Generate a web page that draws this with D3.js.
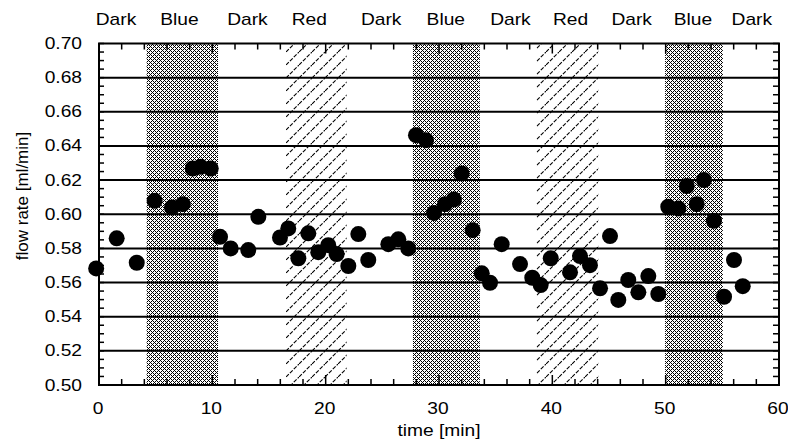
<!DOCTYPE html>
<html>
<head>
<meta charset="utf-8">
<script src="https://cdn.jsdelivr.net/npm/d3@7"></script>
<style>
  body { margin: 0; background: #fff; }
  svg text { font-family: 'Liberation Sans', Arial, sans-serif; fill: #000; font-size: 16px; }
</style>
</head>
<body>
<div id="chart"></div>
<script>
'use strict';

/* measured data */
var times = [-0.25, 1.56, 3.33, 4.91, 6.44, 7.39, 8.27, 8.97, 9.86, 10.68, 11.62, 13.17, 14.06,
  15.97, 16.70, 17.59, 18.47, 19.35, 20.23, 20.97, 22.0, 22.88, 23.76, 25.53, 26.41, 27.29,
  27.97, 28.85, 29.56, 30.53, 31.32, 32.0, 32.97, 33.77, 34.5, 35.53, 37.15, 38.23, 38.97,
  39.86, 41.56, 42.44, 43.32, 44.21, 45.09, 45.82, 46.70, 47.59, 48.47, 49.35, 50.23, 51.12,
  51.86, 52.74, 53.38, 54.26, 55.15, 56.03, 56.80];
var flowRates = [0.5683, 0.5859, 0.5716, 0.6079, 0.6040, 0.6059, 0.6268, 0.6278, 0.6268, 0.5868,
  0.5800, 0.5790, 0.5985, 0.5864, 0.5917, 0.5742, 0.5888, 0.5778, 0.5819, 0.5767, 0.5697,
  0.5884, 0.5732, 0.5825, 0.5853, 0.5800, 0.6463, 0.6434, 0.6008, 0.6059, 0.6087, 0.6239,
  0.5907, 0.5654, 0.5599, 0.5825, 0.5708, 0.5628, 0.5585, 0.5742, 0.5660, 0.5755, 0.5702,
  0.5566, 0.5872, 0.5498, 0.5615, 0.5543, 0.5638, 0.5533, 0.6044, 0.6034, 0.6165, 0.6059,
  0.6200, 0.5962, 0.5517, 0.5732, 0.5579];

/* light phases */
var blueStarts = [4.2, 27.7, 49.95];
var blueEnds = [10.5, 33.6, 55.05];
var redStarts = [16.5, 38.6];
var redEnds = [21.85, 44.05];
var phaseLabels = ['Dark', 'Blue', 'Dark', 'Red', 'Dark', 'Blue', 'Dark', 'Red', 'Dark', 'Blue', 'Dark'];
var phaseLabelTimes = [1.5, 7.1, 13.1, 18.55, 24.9, 30.6, 36.3, 41.6, 47.0, 52.4, 57.6];

/* axes */
var xTicks = [0, 10, 20, 30, 40, 50, 60];
var xMinorTicks = d3.range(0, 61, 2);
var yTicks = [0.50, 0.52, 0.54, 0.56, 0.58, 0.60, 0.62, 0.64, 0.66, 0.68, 0.70];
var yMinorTicks = d3.range(0, 41).map(function(i) { return 0.5 + i * 0.005; });

var width = 788;
var height = 440;
var plotLeft = 99, plotRight = 779, plotTop = 43.5, plotBottom = 385;
var stretch = 1.2;   /* the original lettering is wide */

var x = d3.scaleLinear().domain([0, 60]).range([plotLeft, plotRight]);
var y = d3.scaleLinear().domain([0.5, 0.7]).range([plotBottom, plotTop]);

var svg = d3.select('#chart')
  .append('svg')
  .attr('width', width)
  .attr('height', height);

/* place a text at (px, py), widened horizontally */
function wideText(sel, px, py) {
  sel.attr('transform', function(d, i) {
    var tx = typeof px === 'function' ? px(d, i) : px;
    var ty = typeof py === 'function' ? py(d, i) : py;
    return 'translate(' + tx + ',' + ty + ') scale(' + stretch + ',1)';
  });
}

/* fill patterns */
var defs = svg.append('defs');
var cross = defs.append('pattern')
  .attr('id', 'crossPat')
  .attr('patternUnits', 'userSpaceOnUse')
  .attr('width', 4)
  .attr('height', 4);
[[0, 0], [1, 1], [2, 2], [3, 3], [3, 1], [1, 3]].forEach(function(p) {
  cross.append('rect')
    .attr('x', p[0]).attr('y', p[1])
    .attr('width', 1).attr('height', 1)
    .attr('fill', '#000');
});

var hatch = defs.append('pattern')
  .attr('id', 'hatchPat')
  .attr('patternUnits', 'userSpaceOnUse')
  .attr('width', 13)
  .attr('height', 13);
hatch.append('path')
  .attr('d', 'M-3,3 L3,-3 M0,13 L13,0 M10,16 L16,10')
  .attr('stroke', '#000')
  .attr('stroke-width', 1.1)
  .attr('stroke-dasharray', '4,1.5');

/* shaded windows */
svg.selectAll('.blue')
  .data(blueStarts)
  .enter()
  .append('rect')
  .attr('class', 'blue')
  .attr('x', function(d) { return x(d); })
  .attr('y', plotTop)
  .attr('width', function(d, i) { return x(blueEnds[i]) - x(d); })
  .attr('height', plotBottom - plotTop)
  .attr('fill', 'url(#crossPat)');

svg.selectAll('.red')
  .data(redStarts)
  .enter()
  .append('rect')
  .attr('class', 'red')
  .attr('x', function(d) { return x(d); })
  .attr('y', plotTop)
  .attr('width', function(d, i) { return x(redEnds[i]) - x(d); })
  .attr('height', plotBottom - plotTop)
  .attr('fill', 'url(#hatchPat)');

/* horizontal grid */
svg.selectAll('.grid')
  .data(yTicks.slice(1, -1))
  .enter()
  .append('line')
  .attr('x1', plotLeft)
  .attr('x2', plotRight)
  .attr('y1', function(d) { return y(d); })
  .attr('y2', function(d) { return y(d); })
  .attr('stroke', '#000')
  .attr('stroke-width', 2);

/* ticks, inward on all four sides */
var tickG = svg.append('g').attr('stroke', '#000').attr('stroke-width', 1.5);
xMinorTicks.forEach(function(t) {
  var len = (t % 10 === 0) ? 10 : 6;
  tickG.append('line').attr('x1', x(t)).attr('x2', x(t)).attr('y1', plotBottom).attr('y2', plotBottom - len);
  tickG.append('line').attr('x1', x(t)).attr('x2', x(t)).attr('y1', plotTop).attr('y2', plotTop + len);
});
yMinorTicks.forEach(function(v) {
  tickG.append('line').attr('x1', plotLeft).attr('x2', plotLeft + 5).attr('y1', y(v)).attr('y2', y(v));
  tickG.append('line').attr('x1', plotRight).attr('x2', plotRight - 6).attr('y1', y(v)).attr('y2', y(v));
});

/* points */
svg.selectAll('.pt')
  .data(times)
  .enter()
  .append('circle')
  .attr('class', 'pt')
  .attr('cx', function(d) { return x(d); })
  .attr('cy', function(d, i) { return y(flowRates[i]); })
  .attr('r', 8)
  .attr('fill', '#000');

/* frame */
svg.append('rect')
  .attr('x', plotLeft)
  .attr('y', plotTop)
  .attr('width', plotRight - plotLeft)
  .attr('height', plotBottom - plotTop)
  .attr('fill', 'none')
  .attr('stroke', '#000')
  .attr('stroke-width', 2);

/* tick labels */
svg.selectAll('.ylab')
  .data(yTicks)
  .enter()
  .append('text')
  .attr('text-anchor', 'end')
  .call(wideText, 82, function(d) { return y(d) + 5.5; })
  .text(d3.format('.2f'));

svg.selectAll('.xlab')
  .data(xTicks)
  .enter()
  .append('text')
  .attr('text-anchor', 'middle')
  .call(wideText, function(d) { return x(d) - 1; }, 414)
  .text(function(d) { return d; });

svg.selectAll('.phase')
  .data(phaseLabels)
  .enter()
  .append('text')
  .attr('text-anchor', 'middle')
  .call(wideText, function(d, i) { return x(phaseLabelTimes[i]); }, 25)
  .text(function(d) { return d; });

/* axis titles */
svg.append('text')
  .attr('text-anchor', 'middle')
  .call(wideText, 439, 436)
  .text('time [min]');

svg.append('text')
  .attr('transform', 'translate(28,196) rotate(-90)')
  .attr('text-anchor', 'middle')
  .style('font-size', '17px')
  .text('flow rate [ml/min]');
</script>
</body>
</html>
